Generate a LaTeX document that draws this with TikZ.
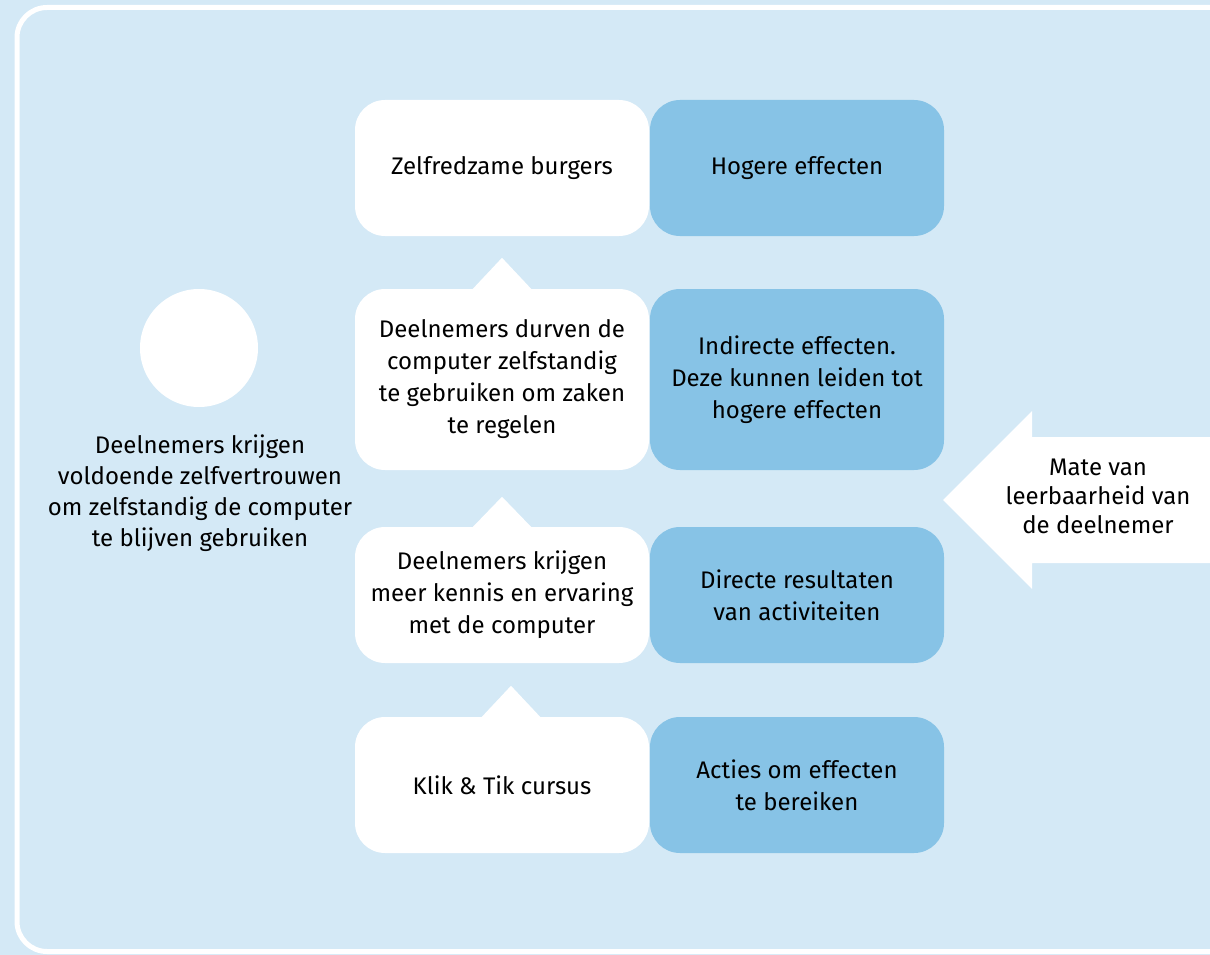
\documentclass[tikz,border=0pt]{standalone}
\usepackage{fontspec}
\setmainfont{Fira Sans}
\usetikzlibrary{calc}
\definecolor{bgblue}{RGB}{212,233,246}
\definecolor{boxblue}{RGB}{135,195,230}
\tikzset{
  whitebox/.style={fill=white, rounded corners=30pt, minimum width=294pt, inner sep=0pt, align=center, font=\fontsize{24}{32}\selectfont},
  bluebox/.style={fill=boxblue, rounded corners=30pt, minimum width=294pt, inner sep=0pt, align=center, font=\fontsize{24}{32}\selectfont},
  plaintext/.style={align=center, inner sep=0pt, font=\fontsize{24}{31}\selectfont},
  pointer/.style={fill=white}
}
\begin{document}
\begin{tikzpicture}[x=1pt,y=-1pt]
\useasboundingbox (0,0) rectangle (1210,955);
\clip (0,0) rectangle (1210,955);
\fill[bgblue] (0,0) rectangle (1210,955);
\draw[white, line width=5pt, rounded corners=30pt] (17,7.5) rectangle (1260,951.5);

% white boxes
\node[whitebox, minimum height=136pt] (w1) at (502,168) {Zelfredzame burgers};
\node[whitebox, minimum height=181pt] (w2) at (502,379.5) {Deelnemers durven de\\computer zelfstandig\\te gebruiken om zaken\\te regelen};
\node[whitebox, minimum height=136pt] (w3) at (502,595) {Deelnemers krijgen\\meer kennis en ervaring\\met de computer};
\node[whitebox, minimum height=136pt] (w4) at (502,785) {Klik \& Tik cursus};

% blue boxes
\node[bluebox, minimum height=136pt] (b1) at (797,168) {Hogere effecten};
\node[bluebox, minimum height=181pt] (b2) at (797,379.5) {Indirecte effecten.\\Deze kunnen leiden tot\\hogere effecten};
\node[bluebox, minimum height=136pt] (b3) at (797,595) {Directe resultaten\\van activiteiten};
\node[bluebox, minimum height=136pt] (b4) at (797,785) {Acties om effecten\\te bereiken};

% pointers
\fill[pointer] ([xshift=-31pt,yshift=-2pt]w2.north) -- ([yshift=31pt]w2.north) -- ([xshift=31pt,yshift=-2pt]w2.north) -- cycle;
\fill[pointer] ([xshift=-31pt,yshift=-2pt]w3.north) -- ([yshift=30pt]w3.north) -- ([xshift=31pt,yshift=-2pt]w3.north) -- cycle;
\fill[pointer] ([xshift=-22pt,yshift=-2pt]w4.north) -- ([xshift=9pt,yshift=31pt]w4.north) -- ([xshift=40pt,yshift=-2pt]w4.north) -- cycle;

% circle and left text
\node[circle, fill=white, minimum size=118pt, inner sep=0pt] (c) at (199,348) {};
\node[plaintext] (lt) at (200,493) {Deelnemers krijgen\\voldoende zelfvertrouwen\\om zelfstandig de computer\\te blijven gebruiken};

% right arrow
\coordinate (tip) at (943,500);
\fill[white] (tip) -- (1032,411) -- (1032,437) -- (1215,437) -- (1215,563) -- (1032,563) -- (1032,589) -- cycle;
\node[plaintext, font=\fontsize{24}{29}\selectfont] (rt) at (1098,496) {Mate van\\leerbaarheid van\\de deelnemer};
\end{tikzpicture}
\end{document}
